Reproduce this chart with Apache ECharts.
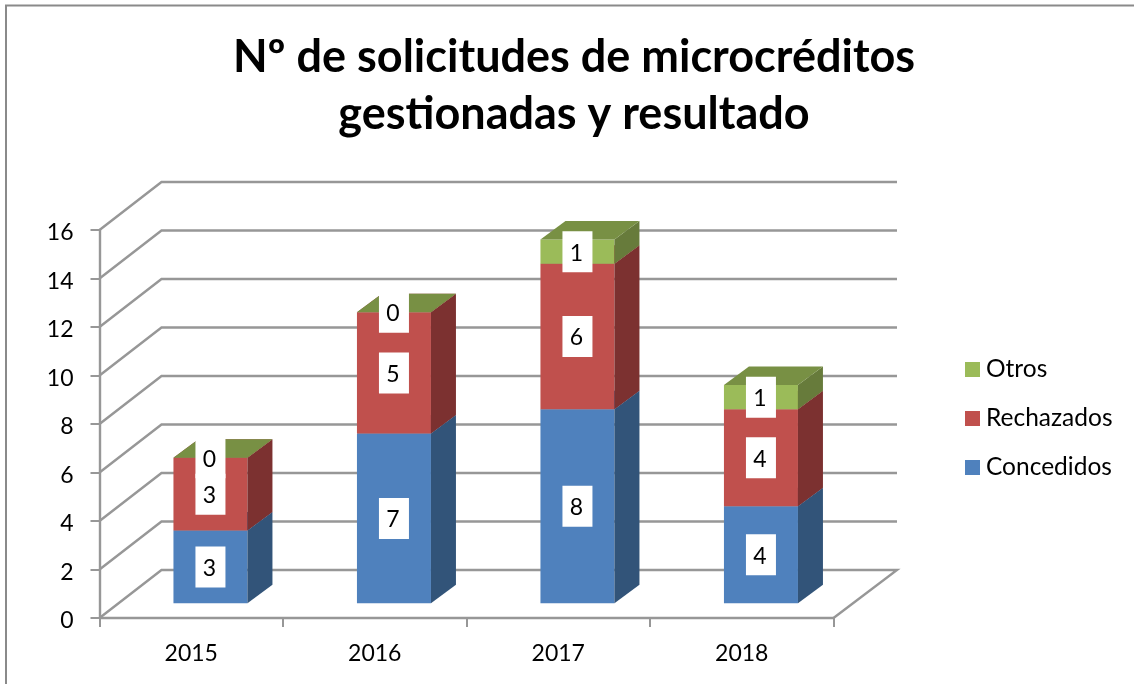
<!DOCTYPE html>
<html>
<head>
<meta charset="utf-8">
<style>
  html, body { margin: 0; padding: 0; background: #fff; }
  #chart { width: 1134px; height: 684px; }
</style>
<script src="https://cdn.jsdelivr.net/npm/echarts@6/dist/echarts.min.js"></script>
</head>
<body>
<div id="chart"></div>
<script>
const categories = ['2015', '2016', '2017', '2018'];
const concedidos = [3, 7, 8, 4];
const rechazados = [3, 5, 6, 4];
const otros = [0, 0, 1, 1];
const yTicks = [0, 2, 4, 6, 8, 10, 12, 14, 16];

// fake 3D: how far the back wall and the bars are pushed up and to the right
const WALL = { dx: 62, dxRight: 63.5, dy: 48 };
const BAR = { shiftX: 19.2, shiftY: 14.7, dx: 25, dy: 18.5, width: 74 };
const LINE_COLOR = '#979797';
const FONT = 'Lato';

function poly(points, fill) {
  return { type: 'polygon', shape: { points: points }, style: { fill: fill } };
}

// back wall, side wall and floor lines
function renderWall(params, api) {
  const area = params.coordSys;
  const y = api.coord([0, api.value(1)])[1];
  const right = area.x + area.width;
  const points = [[area.x, y], [area.x + WALL.dx, y - WALL.dy], [right + WALL.dxRight, y - WALL.dy]];
  if (api.value(1) === 0) {
    points.push([right, y]);
  }
  return {
    type: 'polyline',
    shape: { points: points },
    style: { fill: null, stroke: LINE_COLOR, lineWidth: 2.4 }
  };
}

function barRenderer(front, side, top) {
  return function (params, api) {
    const idx = api.value(0);
    const base = api.value(1);
    const val = api.value(2);
    const c0 = api.coord([idx, base]);
    const c1 = api.coord([idx, base + val]);
    const x0 = c0[0] + BAR.shiftX - BAR.width / 2;
    const x1 = x0 + BAR.width;
    const y0 = c0[1] - BAR.shiftY;
    const y1 = c1[1] - BAR.shiftY;
    const midY = (y0 + y1) / 2;
    return {
      type: 'group',
      children: [
        poly([[x0, y0], [x1, y0], [x1, y1], [x0, y1]], front),
        poly([[x1, y0], [x1 + BAR.dx, y0 - BAR.dy], [x1 + BAR.dx, y1 - BAR.dy], [x1, y1]], side),
        poly([[x0, y1], [x1, y1], [x1 + BAR.dx, y1 - BAR.dy], [x0 + BAR.dx, y1 - BAR.dy]], top),
        { type: 'rect', shape: { x: (x0 + x1) / 2 - 15, y: midY - 20.5, width: 30, height: 41 }, style: { fill: '#fff' } },
        {
          type: 'text',
          style: {
            text: String(val), x: (x0 + x1) / 2 - 1, y: midY + 1.5,
            align: 'center', verticalAlign: 'middle',
            font: '23px ' + FONT, fill: '#000'
          }
        }
      ]
    };
  };
}

function stackSeries(name, values, below, colors) {
  return {
    name: name,
    type: 'custom',
    renderItem: barRenderer(colors.front, colors.side, colors.top),
    itemStyle: { color: colors.front },
    clip: false,
    silent: true,
    encode: { x: 0, y: [1, 2] },
    data: values.map((v, i) => [i, below[i], v])
  };
}

const baseRechazados = concedidos;
const baseOtros = concedidos.map((v, i) => v + rechazados[i]);

const chart = echarts.init(document.getElementById('chart'), null, { renderer: 'canvas' });
chart.setOption({
  animation: false,
  backgroundColor: '#fff',
  textStyle: { fontFamily: FONT },
  title: {
    text: 'Nº de solicitudes de microcréditos\ngestionadas y resultado',
    left: 569,
    top: 24,
    textAlign: 'center',
    textStyle: { fontFamily: FONT, fontSize: 45, fontWeight: 'bold', color: '#000', lineHeight: 57 }
  },
  graphic: [{
    type: 'rect',
    shape: { x: 6, y: 5.5, width: 1200, height: 800 },
    style: { fill: null, stroke: '#8a8a8a', lineWidth: 2 },
    silent: true
  }],
  legend: {
    orient: 'vertical',
    left: 960,
    top: 352,
    icon: 'rect',
    itemWidth: 15,
    itemHeight: 15,
    itemGap: 24,
    selectedMode: false,
    data: ['Otros', 'Rechazados', 'Concedidos'],
    textStyle: { fontFamily: FONT, fontSize: 24.5, color: '#000', padding: [0, 0, 0, 1] }
  },
  grid: { left: 99.5, right: 300.5, top: 230, bottom: 66 },
  xAxis: {
    type: 'category',
    data: categories,
    axisLine: { lineStyle: { color: LINE_COLOR, width: 2.4 } },
    axisTick: { show: true, alignWithLabel: false, length: 9, lineStyle: { color: LINE_COLOR, width: 2 } },
    axisLabel: { fontFamily: FONT, fontSize: 23, color: '#000', margin: 24 }
  },
  yAxis: {
    type: 'value',
    min: 0,
    max: 16,
    interval: 2,
    splitLine: { show: false },
    axisLine: { show: true, lineStyle: { color: LINE_COLOR, width: 2.4 } },
    axisTick: { show: true, length: 9, lineStyle: { color: LINE_COLOR, width: 2 } },
    axisLabel: { fontFamily: FONT, fontSize: 23, color: '#000', margin: 26, verticalAlign: 'top', lineHeight: 6 }
  },
  series: [
    {
      type: 'custom',
      renderItem: renderWall,
      clip: false,
      silent: true,
      encode: { x: 0, y: 1 },
      data: yTicks.map(t => [0, t])
    },
    stackSeries('Concedidos', concedidos, [0, 0, 0, 0], { front: '#4F81BD', side: '#325479', top: '#3E6797' }),
    stackSeries('Rechazados', rechazados, baseRechazados, { front: '#C0504D', side: '#7C3130', top: '#99403D' }),
    stackSeries('Otros', otros, baseOtros, { front: '#9BBB59', side: '#677B3B', top: '#789044' })
  ]
});
</script>
</body>
</html>
